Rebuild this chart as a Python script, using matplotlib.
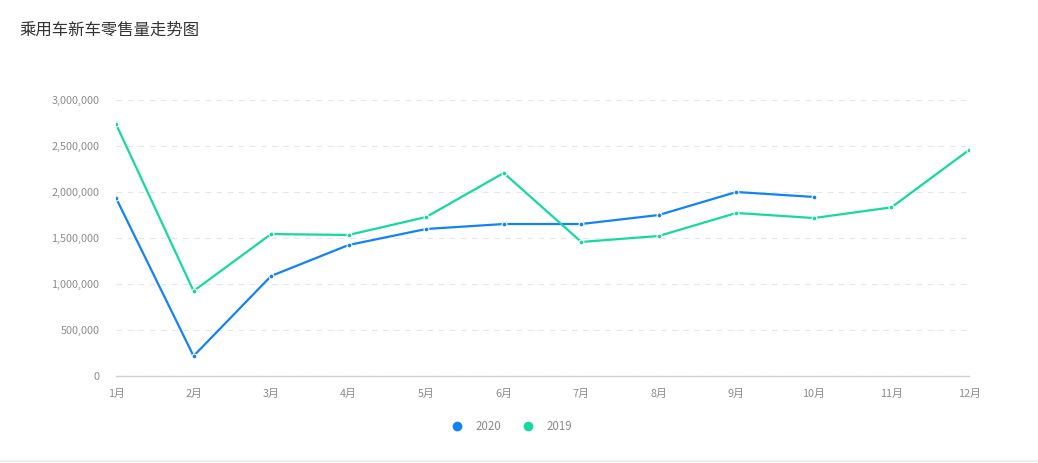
import matplotlib.pyplot as plt
from matplotlib.lines import Line2D
from matplotlib.ticker import FuncFormatter

plt.rcParams['font.family'] = ['Noto Sans CJK SC', 'DejaVu Sans']

months = ['1月', '2月', '3月', '4月', '5月', '6月', '7月', '8月', '9月', '10月', '11月', '12月']
sales_2020 = [1935000, 217000, 1087000, 1424000, 1598000, 1652000, 1652000, 1750000, 2000000, 1946000]
sales_2019 = [2739000, 924000, 1543000, 1533000, 1728000, 2207000, 1457000, 1522000, 1772000, 1717000, 1833000, 2457000]
yticks = [0, 500000, 1000000, 1500000, 2000000, 2500000, 3000000]

blue = '#1283f7'
green = '#16d9a1'
gray = '#8c8c8c'


def main():
    fig = plt.figure(figsize=(10.38, 4.63), dpi=100)
    ax = fig.add_axes([116 / 1038, 87 / 463, 853 / 1038, 276 / 463])

    ax.plot(range(len(sales_2020)), sales_2020, color=blue, lw=1.6, marker='o',
            ms=3.5, mfc=blue, mec='white', mew=0.8, label='2020', zorder=3)
    ax.plot(range(len(sales_2019)), sales_2019, color=green, lw=1.6, marker='o',
            ms=3.5, mfc=green, mec='white', mew=0.8, label='2019', zorder=3)

    ax.set_xlim(0, len(months) - 1)
    ax.set_ylim(0, 3000000)
    ax.set_xticks(range(len(months)))
    ax.set_xticklabels(months)
    ax.set_yticks(yticks)
    ax.yaxis.set_major_formatter(FuncFormatter(lambda v, p: '{:,}'.format(int(v))))
    ax.tick_params(axis='both', length=0, labelsize=7.8, colors=gray)
    ax.tick_params(axis='y', pad=12)
    ax.tick_params(axis='x', pad=9)

    ax.grid(axis='y', color='#e6e6e6', lw=0.8, ls=(0, (5, 5)))
    ax.set_axisbelow(True)
    for s in ['top', 'right', 'left']:
        ax.spines[s].set_visible(False)
    ax.spines['bottom'].set_color('#d0d0d0')
    ax.spines['bottom'].set_linewidth(1)

    fig.text(19 / 1038, 1 - 30 / 463, '乘用车新车零售量走势图', fontsize=11.8,
             color='#333333', va='center', ha='left')

    handles = [Line2D([], [], color=blue, marker='o', ls='', ms=6),
               Line2D([], [], color=green, marker='o', ls='', ms=6)]
    leg = fig.legend(handles, ['2020', '2019'], loc='center', ncol=2,
                     bbox_to_anchor=(512 / 1038, 1 - 427 / 463), frameon=False,
                     fontsize=8.3, handletextpad=1.1, columnspacing=1.8,
                     handlelength=1)
    for t in leg.get_texts():
        t.set_color(gray)

    fig.add_artist(Line2D([0, 1], [2 / 463, 2 / 463], color='#eeeeee', lw=1.2))

    fig.savefig('out.png', dpi=100)


if __name__ == "__main__":
    main()
